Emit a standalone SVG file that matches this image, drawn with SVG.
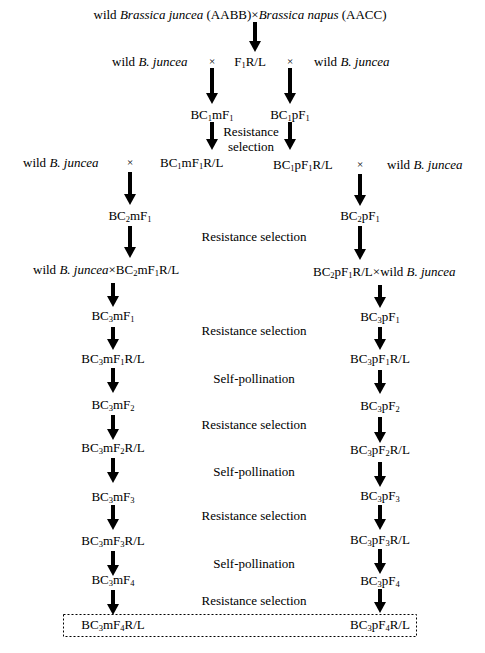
<svg xmlns="http://www.w3.org/2000/svg" width="485" height="653" viewBox="0 0 485 653">
<style>
text{font-family:"Liberation Serif","Times New Roman",serif;font-size:13px;fill:#000}
.m{text-anchor:middle}
.i{font-style:italic}
.s{font-size:8.5px}
.x{font-size:11px}
.arr{stroke:#000;stroke-width:4;fill:none;marker-end:url(#ah)}
.box{fill:none;stroke:#000;stroke-width:1;stroke-dasharray:2,2}
</style>
<defs>
<marker id="ah" markerUnits="userSpaceOnUse" markerWidth="12" markerHeight="13" refX="0" refY="6" orient="auto" viewBox="0 0 12 12">
<path d="M0,0 L11,6 L0,12 z" fill="#000"/>
</marker>
</defs>
<rect width="485" height="653" fill="#fff"/>

<g id="connectors">
<line class="arr" x1="255" y1="22" x2="255" y2="41"/>
<line class="arr" x1="212" y1="68" x2="212" y2="93"/>
<line class="arr" x1="290" y1="68" x2="290" y2="93"/>
<line class="arr" x1="212" y1="122" x2="212" y2="139"/>
<line class="arr" x1="290" y1="122" x2="290" y2="139"/>
<line class="arr" x1="130" y1="172" x2="130" y2="194"/>
<line class="arr" x1="360" y1="174" x2="360" y2="195"/>
<line class="arr" x1="130" y1="226" x2="130" y2="247"/>
<line class="arr" x1="360" y1="226" x2="360" y2="249"/>
<line class="arr" x1="113" y1="283" x2="113" y2="296"/>
<line class="arr" x1="380" y1="285" x2="380" y2="297"/>
<line class="arr" x1="113" y1="327" x2="113" y2="339"/>
<line class="arr" x1="380" y1="327" x2="380" y2="339"/>
<line class="arr" x1="113" y1="368" x2="113" y2="382"/>
<line class="arr" x1="380" y1="370" x2="380" y2="383"/>
<line class="arr" x1="113" y1="415" x2="113" y2="429"/>
<line class="arr" x1="380" y1="417" x2="380" y2="432"/>
<line class="arr" x1="113" y1="458" x2="113" y2="472"/>
<line class="arr" x1="380" y1="462" x2="380" y2="476"/>
<line class="arr" x1="113" y1="505" x2="113" y2="519"/>
<line class="arr" x1="380" y1="505" x2="380" y2="519"/>
<line class="arr" x1="113" y1="551" x2="113" y2="565"/>
<line class="arr" x1="380" y1="549" x2="380" y2="563"/>
<line class="arr" x1="113" y1="590" x2="113" y2="604"/>
<line class="arr" x1="380" y1="589" x2="380" y2="602"/>
</g>

<g id="parents">
<text class="m" x="240" y="19">wild <tspan class="i">Brassica juncea</tspan> (AABB)×<tspan class="i">Brassica napus</tspan> (AACC)</text>
</g>

<g id="row1">
<text x="112" y="66">wild <tspan class="i">B. juncea</tspan></text>
<text class="m x" x="212" y="65">×</text>
<text class="m" x="250" y="66">F<tspan class="s" dy="2">1</tspan><tspan dy="-2">R/L</tspan></text>
<text class="m x" x="290" y="65">×</text>
<text x="314" y="66">wild <tspan class="i">B. juncea</tspan></text>
</g>

<g id="bc1">
<text class="m" x="212" y="119">BC<tspan class="s" dy="2">1</tspan><tspan dy="-2">mF</tspan><tspan class="s" dy="2">1</tspan></text>
<text class="m" x="290" y="119">BC<tspan class="s" dy="2">1</tspan><tspan dy="-2">pF</tspan><tspan class="s" dy="2">1</tspan></text>
<text class="m" x="251" y="136">Resistance</text>
<text class="m" x="251" y="151">selection</text>
</g>

<g id="bc1rl">
<text x="23" y="167">wild <tspan class="i">B. juncea</tspan></text>
<text class="m x" x="130" y="166">×</text>
<text x="160" y="167">BC<tspan class="s" dy="2">1</tspan><tspan dy="-2">mF</tspan><tspan class="s" dy="2">1</tspan><tspan dy="-2">R/L</tspan></text>
<text x="273" y="169">BC<tspan class="s" dy="2">1</tspan><tspan dy="-2">pF</tspan><tspan class="s" dy="2">1</tspan><tspan dy="-2">R/L</tspan></text>
<text class="m x" x="360" y="168">×</text>
<text x="387" y="169">wild <tspan class="i">B. juncea</tspan></text>
</g>

<g id="bc2">
<text class="m" x="130" y="220">BC<tspan class="s" dy="2">2</tspan><tspan dy="-2">mF</tspan><tspan class="s" dy="2">1</tspan></text>
<text class="m" x="360" y="220">BC<tspan class="s" dy="2">2</tspan><tspan dy="-2">pF</tspan><tspan class="s" dy="2">1</tspan></text>
<text class="m" x="254" y="241">Resistance selection</text>
</g>

<g id="bc2rl">
<text x="33" y="274">wild <tspan class="i">B. juncea</tspan>×BC<tspan class="s" dy="2">2</tspan><tspan dy="-2">mF</tspan><tspan class="s" dy="2">1</tspan><tspan dy="-2">R/L</tspan></text>
<text x="313" y="276">BC<tspan class="s" dy="2">2</tspan><tspan dy="-2">pF</tspan><tspan class="s" dy="2">1</tspan><tspan dy="-2">R/L×wild </tspan><tspan class="i">B. juncea</tspan></text>
</g>

<g id="bc3f1">
<text class="m" x="113" y="320">BC<tspan class="s" dy="2">3</tspan><tspan dy="-2">mF</tspan><tspan class="s" dy="2">1</tspan></text>
<text class="m" x="380" y="321">BC<tspan class="s" dy="2">3</tspan><tspan dy="-2">pF</tspan><tspan class="s" dy="2">1</tspan></text>
<text class="m" x="254" y="335">Resistance selection</text>
</g>

<g id="bc3f1rl">
<text class="m" x="113" y="363">BC<tspan class="s" dy="2">3</tspan><tspan dy="-2">mF</tspan><tspan class="s" dy="2">1</tspan><tspan dy="-2">R/L</tspan></text>
<text class="m" x="380" y="363">BC<tspan class="s" dy="2">3</tspan><tspan dy="-2">pF</tspan><tspan class="s" dy="2">1</tspan><tspan dy="-2">R/L</tspan></text>
<text class="m" x="254" y="383">Self-pollination</text>
</g>

<g id="bc3f2">
<text class="m" x="113" y="409">BC<tspan class="s" dy="2">3</tspan><tspan dy="-2">mF</tspan><tspan class="s" dy="2">2</tspan></text>
<text class="m" x="380" y="410">BC<tspan class="s" dy="2">3</tspan><tspan dy="-2">pF</tspan><tspan class="s" dy="2">2</tspan></text>
<text class="m" x="254" y="429">Resistance selection</text>
</g>

<g id="bc3f2rl">
<text class="m" x="113" y="452">BC<tspan class="s" dy="2">3</tspan><tspan dy="-2">mF</tspan><tspan class="s" dy="2">2</tspan><tspan dy="-2">R/L</tspan></text>
<text class="m" x="380" y="454">BC<tspan class="s" dy="2">3</tspan><tspan dy="-2">pF</tspan><tspan class="s" dy="2">2</tspan><tspan dy="-2">R/L</tspan></text>
<text class="m" x="254" y="476">Self-pollination</text>
</g>

<g id="bc3f3">
<text class="m" x="113" y="501">BC<tspan class="s" dy="2">3</tspan><tspan dy="-2">mF</tspan><tspan class="s" dy="2">3</tspan></text>
<text class="m" x="380" y="500">BC<tspan class="s" dy="2">3</tspan><tspan dy="-2">pF</tspan><tspan class="s" dy="2">3</tspan></text>
<text class="m" x="254" y="520">Resistance selection</text>
</g>

<g id="bc3f3rl">
<text class="m" x="113" y="545">BC<tspan class="s" dy="2">3</tspan><tspan dy="-2">mF</tspan><tspan class="s" dy="2">3</tspan><tspan dy="-2">R/L</tspan></text>
<text class="m" x="380" y="544">BC<tspan class="s" dy="2">3</tspan><tspan dy="-2">pF</tspan><tspan class="s" dy="2">3</tspan><tspan dy="-2">R/L</tspan></text>
<text class="m" x="254" y="568">Self-pollination</text>
</g>

<g id="bc3f4">
<text class="m" x="113" y="584">BC<tspan class="s" dy="2">3</tspan><tspan dy="-2">mF</tspan><tspan class="s" dy="2">4</tspan></text>
<text class="m" x="380" y="585">BC<tspan class="s" dy="2">3</tspan><tspan dy="-2">pF</tspan><tspan class="s" dy="2">4</tspan></text>
<text class="m" x="254" y="605">Resistance selection</text>
</g>

<g id="bc3f4rl">
<rect class="box" x="63.5" y="614.5" width="353" height="22"/>
<text class="m" x="113" y="629">BC<tspan class="s" dy="2">3</tspan><tspan dy="-2">mF</tspan><tspan class="s" dy="2">4</tspan><tspan dy="-2">R/L</tspan></text>
<text class="m" x="380" y="629">BC<tspan class="s" dy="2">3</tspan><tspan dy="-2">pF</tspan><tspan class="s" dy="2">4</tspan><tspan dy="-2">R/L</tspan></text>
</g>
</svg>
